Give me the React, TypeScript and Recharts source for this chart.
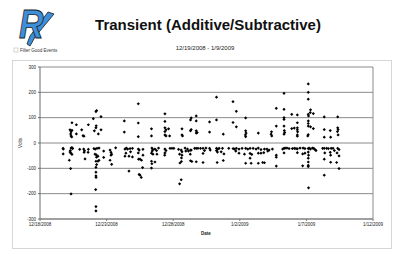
import React from 'react';
import { ScatterChart, Scatter, XAxis, YAxis, CartesianGrid, ReferenceLine } from 'recharts';

// Days since 12/18/2008, and measured volts per transient event
const events: [number, number][] = [
  [1.73, -21], [1.75, -24], [1.74, -43],
  [2.40, 80], [2.25, 52], [2.40, 50], [2.33, 44], [2.30, 36], [2.33, 28], [2.38, 24], [2.73, 72], [2.73, 36],
  [2.33, -20], [2.40, -18], [2.45, -22], [2.25, -36], [2.33, -40], [2.40, -45], [2.20, -68], [2.30, -101], [2.33, -201], [2.28, -30],
  [2.98, -25], [3.28, -24], [3.34, -31], [3.31, -37], [3.63, -25], [3.61, -37], [3.38, -63], [3.13, 52], [3.23, 29], [3.30, 27], [3.63, 72],
  [4.00, 96], [4.20, 124], [4.25, 128], [4.58, 104], [4.22, 68], [4.20, 60], [4.08, 48], [4.38, 36], [4.58, 52],
  [4.05, -22], [4.15, -24], [4.28, -21], [4.43, -20], [4.13, -44], [4.23, -47], [4.24, -56], [4.35, -52], [4.20, -72], [4.25, -85],
  [4.20, -96], [4.35, -72], [4.43, -68], [4.20, -115], [4.20, -130], [4.21, -136], [4.18, -184], [4.20, -251], [4.20, -268], [4.78, -32], [4.78, -57],
  [5.26, -28], [5.33, -37], [5.38, -44], [5.33, -48], [5.26, -68], [5.38, -84], [5.68, -19],
  [6.33, 87], [6.33, 43], [6.38, -24], [6.48, -20], [6.58, -24], [6.76, -22], [6.94, -21], [6.38, -52], [6.68, -52], [6.94, -55], [6.68, -111], [6.45, -40], [6.80, -35],
  [7.38, 155], [7.38, 79], [7.38, 25], [7.38, -24], [7.40, -64], [7.44, -124], [7.73, -25], [7.38, -39], [7.73, -48], [7.51, -64], [7.62, -68], [7.70, -97], [7.51, -127], [7.60, -136], [7.45, -28],
  [8.37, 56], [8.37, 28], [8.40, -20], [8.48, -26], [8.42, -32], [8.37, -40], [8.48, -44], [8.63, -24], [8.75, -30], [8.78, -44], [8.37, -72], [8.37, -99], [8.63, -75], [8.40, -82], [8.90, -20],
  [9.38, 115], [9.38, 85], [9.38, 60], [9.46, 52], [9.38, 45], [9.38, 32], [9.46, 28], [9.65, 56], [9.73, 28],
  [9.38, -24], [9.46, -30], [9.38, -39], [9.36, -48], [9.76, -21], [9.91, -21], [10.05, -21],
  [10.40, -25], [10.48, -44], [10.66, -35], [10.66, 56], [10.66, 32], [10.70, 28], [10.60, -28], [10.66, -48], [10.62, -59], [10.51, -79], [10.62, -73],
  [10.48, -161], [10.60, -145], [10.89, -20], [11.07, -24], [11.30, -28], [11.28, -44], [11.35, -28], [11.30, -70], [11.35, 99], [11.30, 91], [11.30, 48], [11.35, 53], [10.95, -32], [11.15, -32],
  [11.73, 107], [11.73, 87], [11.73, 48], [11.80, 41], [11.73, 39], [11.61, -21], [11.73, -21], [11.86, -21], [12.05, -21], [12.24, -21], [12.46, -20], [12.24, -41], [12.24, -77], [11.73, -74], [11.40, -73], [12.35, -30],
  [12.73, 83], [12.73, 43], [12.73, -21], [12.78, -28], [13.25, 181], [13.25, 91], [13.25, -21], [13.35, -24], [13.45, -21], [13.25, -30], [13.32, -36], [13.30, -77], [13.76, 35], [13.81, -43], [13.76, -69], [13.70, -21], [13.60, -35],
  [14.17, -21], [14.49, 163], [14.74, 125], [14.49, 81], [14.74, 64], [14.74, -21], [14.94, -24], [15.17, -21], [14.70, -32], [14.94, -40], [14.50, -22], [14.60, -24],
  [15.44, 99], [15.44, 48], [15.44, 25], [15.47, 39], [15.42, 32], [15.44, -21], [15.60, -24], [15.35, -44], [15.44, -80], [15.77, -60], [15.85, -80], [15.77, -41], [15.90, -45], [15.77, -21],
  [16.00, -21], [16.22, -24], [16.39, -20], [16.59, -26], [16.85, -24], [16.39, 39], [16.39, -40], [16.59, -40], [16.80, -38], [16.39, -80], [16.85, -78], [17.04, -24], [17.20, -28], [17.10, -32], [16.72, -77],
  [17.38, 44], [17.40, 28], [17.35, 35], [17.74, 137], [17.74, 67], [17.74, -48], [17.74, -56], [17.74, -91], [17.45, -24],
  [18.22, -24], [18.32, 196], [18.32, 133], [18.32, 100], [18.32, 93], [18.32, 67], [18.34, 49], [18.37, 41], [18.32, 35], [18.32, -21], [18.40, -20], [18.32, -39], [18.54, -20], [18.70, -22],
  [18.90, 113], [18.90, 57], [19.09, 59], [19.32, 111], [19.32, 80], [19.32, 60], [19.32, 52], [19.34, 44], [19.32, 32], [19.32, 27],
  [18.95, -22], [19.10, -21], [19.22, -22], [19.32, -23], [19.52, -20], [19.32, -38], [19.72, -43], [19.72, -90], [19.75, -20], [19.89, -22], [19.89, -40],
  [20.14, 233], [20.14, 200], [20.14, 173], [20.14, 113], [20.16, 107], [20.14, 87], [20.14, 77], [20.14, 67], [20.14, 33], [20.10, 28], [20.31, 131], [20.29, 120], [20.52, 116], [20.31, 64], [20.52, 57],
  [20.14, -22], [20.20, -20], [20.30, -24], [20.45, -20], [20.55, -21], [20.65, -26], [20.14, -36], [20.16, -48], [20.14, -60], [20.14, -93], [20.14, -88], [20.16, -177], [20.14, -75], [20.72, -30],
  [21.34, 103], [21.34, 53], [21.34, 23], [21.22, -21], [21.34, -21], [21.52, -21], [21.65, -22], [21.38, -39], [21.34, -64], [21.34, -127],
  [21.79, 49], [21.82, 23], [21.86, -21], [21.79, -37], [21.82, -48], [21.82, -76],
  [22.35, 103], [22.35, 60], [22.38, 53], [22.33, 45], [22.38, 32], [22.35, -21], [22.45, -26], [22.30, -39], [22.45, -51], [22.27, -77], [22.45, -101], [22.00, -21], [22.10, -30],
];

const xTickDays = [0, 5, 10, 15, 20, 25];
const xTickLabels = ['12/18/2008', '12/23/2008', '12/28/2008', '1/2/2009', '1/7/2009', '1/12/2009'];
const yTicks = [-300, -200, -100, 0, 100, 200, 300];

const title = 'Transient (Additive/Subtractive)';
const subtitle = '12/19/2008 - 1/9/2009';

const data = events.map(([day, volts]) => ({ day, volts }));

const FONT = '"Liberation Sans", Arial, sans-serif';

const Diamond = (props: any) => {
  const { cx, cy } = props;
  if (cx == null || cy == null) return null;
  const r = 1.6;
  return <path d={`M${cx},${cy - r}L${cx + r},${cy}L${cx},${cy + r}L${cx - r},${cy}Z`} fill="#000" />;
};

export default function App() {
  return (
    <div style={{ position: 'absolute', left: 0, top: 0, width: 406, height: 259, background: '#fff', fontFamily: FONT }}>
      <div style={{ position: 'absolute', left: 12, top: 60, width: 380, height: 189, boxSizing: 'border-box', border: '1px solid #d6d6d6' }} />
      <div style={{ position: 'absolute', left: 12, top: 60 }}>
        <ScatterChart width={380} height={189} margin={{ top: 7, right: 19, bottom: 0, left: 0 }}>
          <CartesianGrid horizontal vertical={false} stroke="#8a8a8a" strokeWidth={1} />
          <XAxis
            type="number"
            dataKey="day"
            domain={[0, 25]}
            ticks={xTickDays}
            tickFormatter={(v: number) => xTickLabels[xTickDays.indexOf(v)] ?? ''}
            height={30}
            tickSize={2}
            tickMargin={2}
            stroke="#7a7a7a"
            tick={{ fontSize: 4.5, fill: '#222', fontFamily: FONT }}
            interval={0}
          />
          <YAxis
            type="number"
            dataKey="volts"
            domain={[-300, 300]}
            ticks={yTicks}
            width={28}
            tickSize={2}
            tickMargin={2}
            stroke="#6a6a6a"
            tick={{ fontSize: 4.5, fill: '#222', fontFamily: FONT }}
            interval={0}
          />
          <ReferenceLine x={25} stroke="#8a8a8a" />
          <Scatter data={data} isAnimationActive={false} shape={Diamond} fill="#000" />
        </ScatterChart>
      </div>
      <svg width={406} height={259} style={{ position: 'absolute', left: 0, top: 0, pointerEvents: 'none' }}>
        {/* logo */}
        <path d="M48,12 L54,14 L35,37 L30,46 L27,44 L30,36 Z" fill="#3d8fd9" stroke="#1a1a1a" strokeWidth={0.8} />
        <text x={0} y={0} transform="translate(19,38) scale(0.85,1)" fontSize={40} fontWeight="bold" fontStyle="italic" fontFamily={FONT} fill="#3d8fd9" stroke="#1a1a1a" strokeWidth={0.9}>R</text>
        <text x={208} y={30} textAnchor="middle" fontSize={15} fontWeight="bold" fontFamily={FONT} fill="#111">{title}</text>
        <text x={205} y={50} textAnchor="middle" fontSize={6} fontFamily={FONT} fill="#222">{subtitle}</text>
        <rect x={14} y={48} width={4} height={4} fill="#fff" stroke="#bbb" strokeWidth={0.6} />
        <text x={20} y={52} fontSize={4.5} fontFamily={FONT} fill="#333">Filter Good Events</text>
        <text x={206} y={235} textAnchor="middle" fontSize={4.5} fontWeight="bold" fontFamily={FONT} fill="#222">Date</text>
        <text x={0} y={0} transform="translate(22,143) rotate(-90)" textAnchor="middle" fontSize={4.5} fontFamily={FONT} fill="#222">Volts</text>
      </svg>
    </div>
  );
}
